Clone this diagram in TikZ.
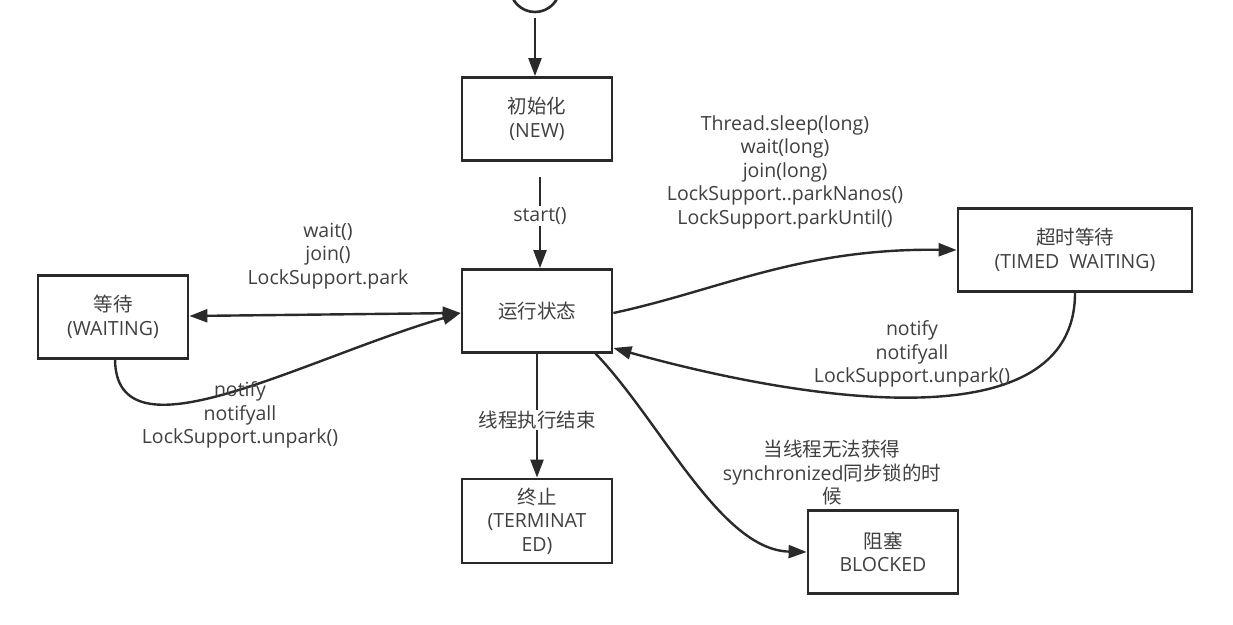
\documentclass[tikz,border=0pt]{standalone}
\usepackage{fontspec}
\setmainfont{Open Sans}
\newfontfamily\cjk{Noto Sans CJK SC}
\usetikzlibrary{arrows.meta}
\definecolor{ln}{HTML}{2A2A2A}
\definecolor{tx}{HTML}{404040}
\begin{document}
\begin{tikzpicture}[x=1pt,y=-1pt,
  font=\fontsize{19.5}{23.5}\selectfont,
  state/.style={draw=ln,line width=2.8pt,fill=white,text=tx,align=center,inner sep=0pt,minimum width=150pt,minimum height=83pt},
  lbl/.style={text=tx,align=center,inner sep=1pt},
  conn/.style={draw=ln,line width=2.4pt,-{Triangle[length=18pt,width=13pt]}},
  plain/.style={draw=ln,line width=2.4pt}]
\useasboundingbox (0,0) rectangle (1233,624);
\fill[white] (0,0) rectangle (1233,624);
% start circle
\node[draw=ln,line width=2.6pt,circle,minimum size=50pt,inner sep=0pt] (init) at (535,-13) {};
% states
\node[state] (new) at (537,119) {{\cjk 初始化}\\(NEW)};
\node[state] (run) at (537,311) {\cjk 运行状态};
\node[state] (wait) at (113,317) {{\cjk 等待}\\(WAITING)};
\node[state,minimum width=234pt] (timed) at (1075,250) {{\cjk 超时等待}\\(TIMED\ \ WAITING)};
\node[state,minimum height=84pt] (term) at (537,521) {{\cjk 终止}\\(TERMINAT\\ED)};
\node[state] (blk) at (883,552) {{\cjk 阻塞}\\BLOCKED};
% connectors
\coordinate (c1) at (535,18);
\draw[conn] (c1) -- (c1 |- new.north);
\coordinate (s1) at (540,177);
\node[lbl] (startl) at (540,216) {start()};
\draw[plain] (s1) -- (startl.north);
\draw[conn] (startl.south) -- (run.north -| startl.south);
% running <-> waiting
\draw[draw=ln,line width=2.4pt,{Triangle[length=18pt,width=13pt]}-{Triangle[length=18pt,width=13pt]}] (wait.east |- 0,316) -- (run.west |- 0,313);
\node[lbl] (wl) at (328,256) {wait()\\join()\\LockSupport.park};
\draw[conn] (115,358.5) .. controls (115,465) and (300,360) .. (run.west |- 0,313);
\node[lbl] (nl) at (240,415) {notify\\notifyall\\LockSupport.unpark()};
% running -> timed
\draw[conn] (run.east |- 0,313) .. controls (720,290) and (800,248) .. (timed.west);
\node[lbl] (tl) at (785,172) {Thread.sleep(long)\\wait(long)\\join(long)\\LockSupport..parkNanos()\\LockSupport.parkUntil()};
\draw[conn] (timed.south) .. controls (1075,445) and (800,400) .. (run.east |- 0,348);
\node[lbl] (tnl) at (912,354) {notify\\notifyall\\LockSupport.unpark()};
% running -> terminated
\node[lbl] (el) at (537,420) {\cjk 线程执行结束};
\draw[plain] (run.south) -- (el.north);
\draw[conn] (el.south) -- (term.north);
% running -> blocked
\draw[conn] (595,353) .. controls (660,420) and (720,550) .. (blk.west);
\node[lbl] (bl) at (832,473) {{\cjk 当线程无法获得}\\synchronized{\cjk 同步锁的时}\\{\cjk 候}};
\end{tikzpicture}
\end{document}
